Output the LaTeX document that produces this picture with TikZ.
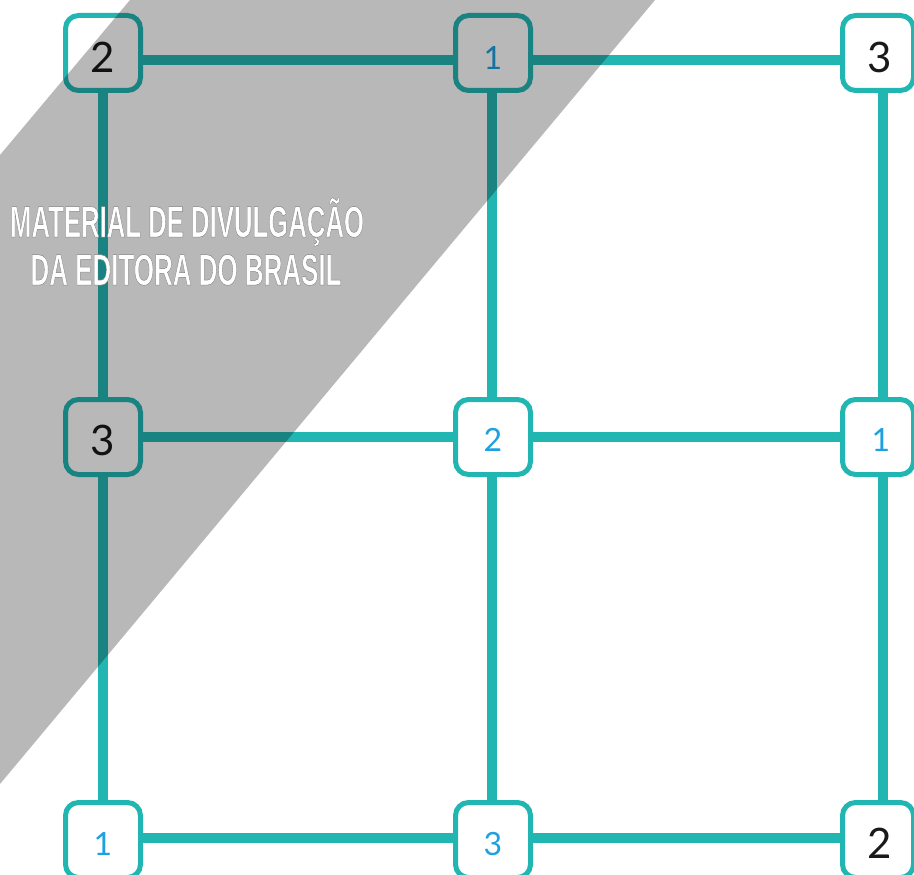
\documentclass[tikz,border=0pt]{standalone}
\usepackage{fontspec}
\setmainfont{Lato}
\newfontfamily\wmfont{Liberation Sans Bold}
\usetikzlibrary{backgrounds}
\definecolor{teal1}{HTML}{22B6B3}
\definecolor{digblue}{HTML}{1FA0E0}
\definecolor{digblack}{HTML}{1A1A1A}
\newcommand{\dg}[2]{\raisebox{-#1}[\height][\depth]{#2}}
\newcommand{\wmtext}[2]{\resizebox{#1}{\height}{\wmfont\fontsize{44}{44}\selectfont
  \color{white}\special{pdf:literal direct 2 Tr 0.5 w 0.5 G}#2\special{pdf:literal direct 0 Tr}}}
\begin{document}
\begin{tikzpicture}[x=1pt,y=-1pt,
  cell/.style={draw=teal1, line width=5pt, fill=white, rounded corners=13pt,
    minimum width=75pt, minimum height=75pt, inner sep=0pt},
  cellr/.style={cell, minimum width=71pt},
  big/.style={text=digblack, font=\fontsize{42}{42}\selectfont},
  small/.style={text=digblue, font=\fontsize{32}{32}\selectfont},
  link/.style={draw=teal1, line width=10pt},
  wm/.style={anchor=base, inner sep=0pt, text=white}]
\useasboundingbox (0,0) rectangle (914,875);

% nodes
\node[cell, big]    (a1) at (103,53)  {\dg{4pt}{2}};
\node[cell, small]  (a2) at (493,53)  {\dg{5pt}{1}};
\node[cellr, big]   (a3) at (878,53)  {\dg{4pt}{\hspace*{3pt}3}};
\node[cell, big]    (b1) at (103,437) {\dg{3pt}{3}};
\node[cell, small]  (b2) at (493,437) {\dg{3pt}{2}};
\node[cellr, small] (b3) at (878,437) {\dg{3pt}{\hspace*{6pt}1}};
\node[cell, small]  (c1) at (103,840) {\dg{4pt}{1}};
\node[cell, small]  (c2) at (493,840) {\dg{4pt}{3}};
\node[cellr, big]   (c3) at (878,840) {\dg{3pt}{\hspace*{3pt}2}};

% connectors
\begin{scope}[on background layer]
  \draw[link] ([yshift=-7pt]a1.center) -- ([yshift=-7pt]a2.center) -- ([yshift=-7pt]a3.center);
  \draw[link] (b1.center) -- (b2.center) -- (b3.center);
  \draw[link] ([yshift=2pt]c1.center) -- ([yshift=2pt]c2.center) -- ([yshift=2pt]c3.center);
  \draw[link] (a1.center) -- (b1.center) -- (c1.center);
  \draw[link] ([xshift=-1pt]a2.center) -- ([xshift=-1pt]b2.center) -- ([xshift=-1pt]c2.center);
  \draw[link] ([xshift=5pt]a3.center) -- ([xshift=5pt]b3.center) -- ([xshift=5pt]c3.center);
\end{scope}

% translucent band
\fill[black, opacity=0.28] (130,0) -- (655,0) -- (0,784) -- (0,155) -- cycle;

% watermark
\node[wm] (wm1) at (187,237) {\wmtext{354pt}{MATERIAL DE DIVULGAÇÃO}};
\node[wm] (wm2) at (186,285) {\wmtext{311pt}{DA EDITORA DO BRASIL}};
\end{tikzpicture}
\end{document}
